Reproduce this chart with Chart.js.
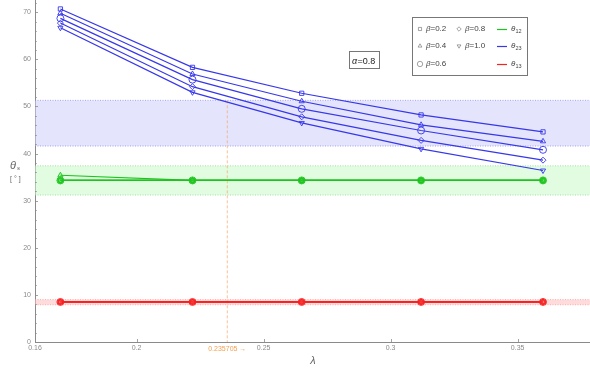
<!DOCTYPE html>
<html>
<head>
<meta charset="utf-8">
<script src="https://cdn.jsdelivr.net/npm/chart.js@4.4.1/dist/chart.umd.min.js"></script>
<style>
  html, body { margin: 0; padding: 0; background: #fff; }
  #wrap { width: 590px; height: 377px; position: relative; }
</style>
</head>
<body>
<div id="wrap"><canvas id="c" width="590" height="377"></canvas></div>
<script>
// λ values where the mixing angles were computed
const lambdas = [0.17, 0.222, 0.265, 0.312, 0.36];
const betas = ['0.2', '0.4', '0.6', '0.8', '1.0'];

// θ23 for each β
const theta23 = [
  [70.7, 58.3, 52.8, 48.2, 44.6],
  [69.8, 56.9, 51.1, 46.1, 42.6],
  [68.7, 55.7, 49.5, 44.9, 40.8],
  [67.7, 54.2, 47.8, 42.8, 38.6],
  [66.7, 53.0, 46.5, 41.0, 36.4]
];
// θ12 for each β
const theta12 = [
  [34.3, 34.3, 34.3, 34.3, 34.3],
  [35.4, 34.3, 34.3, 34.3, 34.3],
  [34.3, 34.3, 34.3, 34.3, 34.3],
  [34.3, 34.3, 34.3, 34.3, 34.3],
  [34.3, 34.3, 34.3, 34.3, 34.3]
];
// θ13 for each β
const theta13 = [
  [8.5, 8.5, 8.5, 8.5, 8.5],
  [8.5, 8.5, 8.5, 8.5, 8.5],
  [8.5, 8.5, 8.5, 8.5, 8.5],
  [8.5, 8.5, 8.5, 8.5, 8.5],
  [8.5, 8.5, 8.5, 8.5, 8.5]
];

// allowed ranges (low, high) of the three angles
const band23 = [41.6, 51.3];
const band12 = [31.2, 37.4];
const band13 = [7.9, 9.0];

// marked λ value
const lambdaMark = 0.235705;

const xTicks = [0.16, 0.2, 0.25, 0.3, 0.35];
const xTickLabels = ['0.16', '0.2', '0.25', '0.3', '0.35'];
const yTicks = [0, 10, 20, 30, 40, 50, 60, 70];
const yTickLabels = ['0', '10', '20', '30', '40', '50', '60', '70'];

const markerStyles = [
  { style: 'rect', radius: 3, rot: 0 },
  { style: 'triangle', radius: 3, rot: 0 },
  { style: 'circle', radius: 3.5, rot: 0 },
  { style: 'rectRot', radius: 3, rot: 0 },
  { style: 'triangle', radius: 3, rot: 180 }
];

const BLUE = 'rgb(55,55,235)';
const GREEN = 'rgb(30,195,30)';
const RED = 'rgb(245,35,35)';

function series(values, color, fill, i) {
  const m = markerStyles[i];
  return {
    label: 'β=' + betas[i],
    data: lambdas.map((x, k) => ({ x: x, y: values[k] })),
    showLine: true,
    borderColor: color,
    borderWidth: 1.2,
    pointStyle: m.style,
    pointRadius: m.radius,
    pointRotation: m.rot,
    pointBorderWidth: 0.9,
    pointBorderColor: color,
    pointBackgroundColor: fill,
    pointHoverRadius: m.radius
  };
}

const datasets = [];
theta13.forEach((v, i) => datasets.push(series(v, RED, 'rgba(250,90,90,0.25)', i)));
theta12.forEach((v, i) => datasets.push(series(v, GREEN, 'rgba(60,210,60,0.25)', i)));
theta23.forEach((v, i) => datasets.push(series(v, BLUE, 'rgba(255,255,255,0)', i)));

const GRAY = '#8a8a8a';
const FONT = '"Liberation Sans", Arial, sans-serif';

// plot area in canvas pixels: the axes sit at its left and bottom edges
const AREA = { left: 35, top: 0, right: 590, bottom: 342 };

// no extra room for edge labels
function noPadding(s) {
  s.paddingLeft = 0; s.paddingRight = 0; s.paddingTop = 0; s.paddingBottom = 0;
  s.getPadding = () => ({ left: 0, top: 0, right: 0, bottom: 0 });
}

// pin the plot area and re-derive the scale pixel ranges from it
const areaPlugin = {
  id: 'area',
  afterLayout(chart) {
    const ca = chart.chartArea;
    Object.assign(ca, AREA);
    ca.width = AREA.right - AREA.left;
    ca.height = AREA.bottom - AREA.top;
    const { x, y } = chart.scales;
    x.left = AREA.left; x.right = AREA.right; x.width = ca.width;
    x.top = AREA.bottom; x.bottom = chart.height; x.height = chart.height - AREA.bottom;
    y.left = 0; y.right = AREA.left; y.width = AREA.left;
    y.top = AREA.top; y.bottom = AREA.bottom; y.height = ca.height;
    x.configure();
    y.configure();
  }
};

// shaded ranges and the marked λ, under the data
const bandsPlugin = {
  id: 'bands',
  beforeDatasetsDraw(chart) {
    const { ctx, chartArea: a, scales: { x, y } } = chart;
    ctx.save();
    const bands = [
      [band23, 'rgba(205,205,250,0.55)', 'rgba(120,120,240,0.8)'],
      [band12, 'rgba(200,250,200,0.55)', 'rgba(120,210,120,0.8)'],
      [band13, 'rgba(255,190,190,0.55)', 'rgba(250,140,140,0.8)']
    ];
    bands.forEach(([b, fill, edge]) => {
      const y1 = y.getPixelForValue(b[1]);
      const y0 = y.getPixelForValue(b[0]);
      ctx.fillStyle = fill;
      ctx.fillRect(a.left, y1, a.right - a.left, y0 - y1);
      ctx.strokeStyle = edge;
      ctx.lineWidth = 0.8;
      ctx.setLineDash([1, 1.5]);
      [y0, y1].forEach(py => {
        ctx.beginPath();
        ctx.moveTo(a.left, py);
        ctx.lineTo(a.right, py);
        ctx.stroke();
      });
    });
    // vertical dashed line at the marked λ
    const px = x.getPixelForValue(lambdaMark);
    ctx.strokeStyle = 'rgba(245,170,110,0.9)';
    ctx.lineWidth = 0.8;
    ctx.setLineDash([3, 2]);
    ctx.beginPath();
    ctx.moveTo(px, y.getPixelForValue(band23[1]));
    ctx.lineTo(px, a.bottom);
    ctx.stroke();
    ctx.restore();
  },
  afterDraw(chart) {
    const { ctx, chartArea: a, scales: { x, y } } = chart;
    ctx.save();
    // tick marks pointing into the plot
    ctx.strokeStyle = GRAY;
    ctx.lineWidth = 0.8;
    for (let v = 0; v <= 72; v += 2) {
      const py = Math.round(y.getPixelForValue(v)) + 0.5;
      const len = v % 10 === 0 ? 3 : 1.8;
      ctx.beginPath();
      ctx.moveTo(a.left, py);
      ctx.lineTo(a.left + len, py);
      ctx.stroke();
    }
    xTicks.forEach(v => {
      const px = Math.round(x.getPixelForValue(v)) + 0.5;
      ctx.beginPath();
      ctx.moveTo(px, a.bottom);
      ctx.lineTo(px, a.bottom - 3);
      ctx.stroke();
    });

    // label of the marked λ
    ctx.fillStyle = 'rgb(245,160,80)';
    ctx.font = '7px ' + FONT;
    ctx.textAlign = 'center';
    ctx.textBaseline = 'top';
    ctx.fillText(String(lambdaMark) + ' →', x.getPixelForValue(lambdaMark), a.bottom + 3.5);

    // axis titles
    ctx.fillStyle = '#666';
    ctx.font = 'italic 11px ' + FONT;
    ctx.textAlign = 'left';
    ctx.textBaseline = 'alphabetic';
    ctx.fillText('θ', 10, 169);
    ctx.font = 'italic 6px ' + FONT;
    ctx.fillText('s', 17, 170);
    ctx.font = '7px ' + FONT;
    ctx.fillText('[ ° ]', 10, 181);
    ctx.font = 'italic 11px ' + FONT;
    ctx.textAlign = 'center';
    ctx.fillText('λ', 313, 364);

    // α box
    ctx.strokeStyle = '#777';
    ctx.lineWidth = 1;
    ctx.fillStyle = '#fff';
    ctx.fillRect(349.5, 51.5, 30, 17);
    ctx.strokeRect(349.5, 51.5, 30, 17);
    ctx.fillStyle = '#222';
    ctx.textAlign = 'left';
    ctx.font = 'italic 9px ' + FONT;
    ctx.fillText('α', 352, 63.5);
    ctx.font = '9px ' + FONT;
    ctx.fillText('=0.8', 357.5, 63.5);

    // legend
    ctx.fillStyle = '#fff';
    ctx.fillRect(412.5, 17.5, 115, 58);
    ctx.strokeRect(412.5, 17.5, 115, 58);
    const rows = [29, 46, 64];
    const legendMarks = [
      [0, 420, rows[0]], [1, 420, rows[1]], [2, 420, rows[2]],
      [3, 459, rows[0]], [4, 459, rows[1]]
    ];
    legendMarks.forEach(([i, mx, my]) => {
      const m = markerStyles[i];
      ctx.fillStyle = '#fff';
      ctx.strokeStyle = '#666';
      ctx.lineWidth = 0.6;
      Chart.helpers.drawPoint(ctx, {
        pointStyle: m.style, radius: m.radius - 0.8, rotation: m.rot, borderWidth: 0.6
      }, mx, my);
      ctx.font = 'italic 8px ' + FONT;
      ctx.fillStyle = '#444';
      ctx.textBaseline = 'middle';
      ctx.fillText('β', mx + 6, my);
      ctx.font = '8px ' + FONT;
      ctx.fillText('=' + betas[i], mx + 10.5, my);
    });
    const angleItems = [[GREEN, '12'], [BLUE, '23'], [RED, '13']];
    angleItems.forEach(([c, sub], k) => {
      const my = rows[k];
      ctx.strokeStyle = c;
      ctx.lineWidth = 1.2;
      ctx.beginPath();
      ctx.moveTo(497, my + 0.5);
      ctx.lineTo(507, my + 0.5);
      ctx.stroke();
      ctx.fillStyle = '#444';
      ctx.font = 'italic 8px ' + FONT;
      ctx.fillText('θ', 511, my);
      ctx.font = '5.5px ' + FONT;
      ctx.fillText(sub, 515.5, my + 2.5);
    });
    ctx.restore();
  }
};

new Chart(document.getElementById('c'), {
  type: 'scatter',
  data: { datasets: datasets },
  options: {
    responsive: false,
    animation: false,
    events: [],
    clip: false,
    layout: { padding: 0 },
    plugins: { legend: { display: false }, tooltip: { enabled: false } },
    scales: {
      x: {
        type: 'linear',
        min: 0.16,
        max: 0.3785,
        afterBuildTicks: s => { s.ticks = xTicks.map(v => ({ value: v })); },
        afterFit: s => { s.height = 35; noPadding(s); },
        ticks: {
          autoSkip: false,
          maxRotation: 0,
          padding: 2,
          color: GRAY,
          font: { family: FONT, size: 7 },
          callback: (v) => xTickLabels[xTicks.indexOf(v)] ?? ''
        },
        grid: { display: false, drawTicks: false },
        border: { display: true, color: GRAY, width: 1 }
      },
      y: {
        type: 'linear',
        min: 0,
        max: 72.6,
        afterBuildTicks: s => { s.ticks = yTicks.map(v => ({ value: v })); },
        afterFit: s => { s.width = 35; noPadding(s); },
        ticks: {
          autoSkip: false,
          padding: 4,
          color: GRAY,
          font: { family: FONT, size: 7 },
          callback: (v) => yTickLabels[yTicks.indexOf(v)] ?? ''
        },
        grid: { display: false, drawTicks: false },
        border: { display: true, color: GRAY, width: 1 }
      }
    }
  },
  plugins: [areaPlugin, bandsPlugin]
});
</script>
</body>
</html>
